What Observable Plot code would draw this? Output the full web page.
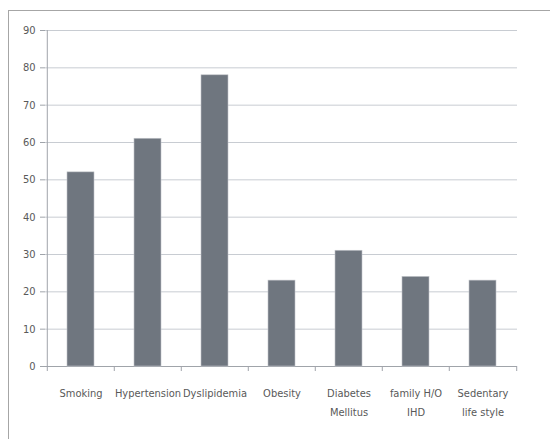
<!DOCTYPE html>
<html><head><meta charset="utf-8">
<script src="https://cdn.jsdelivr.net/npm/d3@7"></script>
<script src="https://cdn.jsdelivr.net/npm/@observablehq/plot@0.6"></script>
<style>
body{margin:0;background:#fff;}
#frame{position:absolute;left:8px;top:10px;width:560px;height:440px;border:1px solid #a6a6a6;border-right:none;border-bottom:none;}
#chart{position:absolute;left:0;top:0;}
#chart text{font-stretch:condensed;}
</style></head>
<body><div id="frame"></div><div id="chart"></div>
<script>
const categories = ["Smoking","Hypertension","Dyslipidemia","Obesity","Diabetes\nMellitus","family H/O\nIHD","Sedentary\nlife style"];
const values = [52, 61, 78, 23, 31, 24, 23];
const yTicks = [0,10,20,30,40,50,60,70,80,90];

const data = categories.map((c,i)=>({cat:c, v:values[i]}));
const W = 550, H = 439, mL = 45, mR = 33, mT = 30, mB = 73;
const step = (W - mL - mR) / categories.length;
const font = "'DejaVu Sans Condensed','Liberation Sans Narrow',sans-serif";

const plot = Plot.plot({
  width: W, height: H,
  marginLeft: mL, marginRight: mR, marginTop: mT, marginBottom: mB,
  style: {fontFamily: font, fontSize: "11px", color: "#595959", background: "transparent"},
  x: {domain: categories, paddingInner: 0.6, paddingOuter: 0.3, label: null, axis: null},
  y: {domain: [0, 90], label: null, axis: null},
  marks: [
    Plot.gridY(yTicks, {stroke: "#c8ccd2", strokeOpacity: 1}),
    Plot.ruleY([0], {stroke: "#a0a4aa"}),
    Plot.ruleX(categories.slice(0,1), {x: d=>d, y1: 0, y2: 90, dx: -step/2, stroke: "#a0a4aa"}),
    Plot.axisY(yTicks, {tickSize: 5, tickPadding: 5, stroke: "#a0a4aa", fill: "#595959", fontSize: 11, label: null}),
    Plot.ruleX(categories, {x: d=>d, y1: 0, y2: 0, insetBottom: -5, dx: -step/2, stroke: "#a0a4aa"}),
    Plot.ruleX(categories.slice(-1), {x: d=>d, y1: 0, y2: 0, insetBottom: -5, dx: step/2, stroke: "#a0a4aa"}),
    Plot.barY(data, {x: "cat", y: "v", fill: "#6f767f", stroke: "#c0c4c8", strokeWidth: 0.6}),
    Plot.axisX({tickSize: 0, tickPadding: 16, fill: "#595959", fontSize: 11, label: null, lineHeight: 1.8, textAnchor: "middle"})
  ]
});
document.getElementById("chart").appendChild(plot);
</script></body></html>
